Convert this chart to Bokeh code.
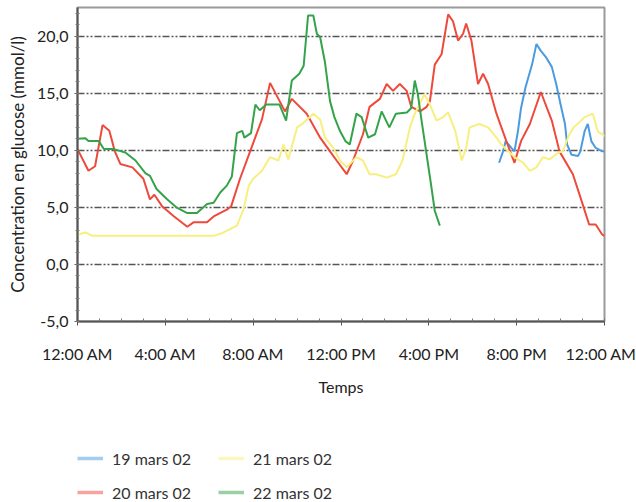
from bokeh.plotting import figure
from bokeh.layouts import column
from bokeh.models import FixedTicker, Legend, LegendItem, ColumnDataSource
from bokeh.embed import file_html
from bokeh.resources import INLINE

# ---- data (hours since midnight, glucose mmol/l) ----
h_19 = [19.2, 19.38, 19.5, 19.76, 19.9, 20.06, 20.2, 20.4, 20.7, 20.9, 21.1, 21.35, 21.6, 21.8, 22.0,
        22.2, 22.3, 22.5, 22.8, 22.9, 23.1, 23.24, 23.4, 23.6, 23.9, 24.0]
v_19 = [8.9, 9.9, 10.8, 10.2, 9.9, 11.7, 13.7, 15.5, 17.5, 19.3, 18.7, 18.1, 17.3, 15.8, 14.0,
        12.3, 10.5, 9.6, 9.5, 9.9, 11.7, 12.3, 10.8, 10.2, 9.9, 9.9]

h_20 = [0, 0.5, 0.8, 1.14, 1.45, 1.7, 1.95, 2.5, 3.0, 3.3, 3.5, 3.85, 4.4, 5.0, 5.3, 5.9, 6.2, 6.8, 7.0,
        7.4, 7.9, 8.4, 8.77, 9.45, 9.76, 10.44, 11.05, 11.5, 11.8, 12.26, 12.55, 13.0, 13.3, 13.77,
        14.08, 14.37, 14.68, 14.99, 15.2, 15.6, 15.9, 16.05, 16.27, 16.58, 16.88, 17.1, 17.33, 17.56,
        17.7, 17.94, 18.24, 18.47, 18.7, 19.08, 19.53, 19.9, 20.2, 20.6, 21.1, 21.6, 21.95, 22.56,
        23.0, 23.3, 23.6, 23.9, 24.0]
v_20 = [10.1, 8.2, 8.6, 12.2, 11.7, 9.9, 8.8, 8.5, 7.5, 5.7, 6.1, 5.1, 4.2, 3.3, 3.7, 3.7, 4.2, 4.8, 5.1,
        7.5, 10.1, 12.7, 15.9, 13.4, 14.5, 13.2, 11.1, 9.9, 9.1, 7.9, 9.1, 11.4, 13.8, 14.5,
        15.8, 15.2, 15.8, 15.2, 13.8, 13.4, 13.8, 14.3, 17.5, 18.4, 21.9, 21.3, 19.6, 20.2,
        21.1, 19.6, 15.8, 16.7, 15.8, 13.2, 10.8, 8.9, 10.8, 12.3, 15.1, 12.6, 9.9, 7.9,
        5.3, 3.5, 3.5, 2.6, 2.5]

h_21 = [0, 0.36, 0.67, 6.2, 6.65, 6.95, 7.26, 7.56, 7.8, 8.0, 8.4, 8.77, 9.15, 9.38, 9.6, 10.0, 10.3,
        10.74, 11.05, 11.27, 11.65, 11.95, 12.26, 12.7, 13.0, 13.3, 13.6, 14.08, 14.5, 14.8, 15.14,
        15.36, 15.8, 16.05, 16.35, 16.65, 16.88, 17.2, 17.5, 17.7, 17.86, 18.3, 18.7, 19.08, 19.3,
        19.9, 20.3, 20.6, 20.9, 21.2, 21.5, 21.9, 22.1, 22.4, 22.6, 23.1, 23.47, 23.7, 23.9, 24.0]
v_21 = [2.6, 2.8, 2.5, 2.5, 2.8, 3.1, 3.4, 4.8, 6.9, 7.5, 8.2, 9.4, 9.1, 10.5, 9.2, 12.0, 12.4,
        13.2, 12.7, 11.1, 10.2, 9.1, 8.5, 9.4, 9.1, 7.9, 7.9, 7.6, 7.9, 9.1, 12.0,
        13.2, 14.9, 14.0, 12.6, 12.9, 13.3, 11.7, 9.1, 10.2, 12.0, 12.3, 12.0, 11.1, 10.5,
        9.4, 8.9, 8.2, 8.5, 9.4, 9.2, 9.8, 9.9, 11.4, 12.0, 12.9, 13.2, 11.6, 11.4, 11.2]

h_22 = [0, 0.36, 0.5, 0.97, 1.2, 1.65, 2.18, 2.64, 3.09, 3.3, 3.6, 4.08, 4.5, 5.0, 5.44, 5.9, 6.2, 6.5,
        6.8, 7.03, 7.26, 7.5, 7.6, 7.9, 8.1, 8.3, 8.6, 9.2, 9.5, 9.76, 10.1, 10.3, 10.5, 10.74, 10.9,
        11.05, 11.27, 11.5, 11.7, 11.95, 12.2, 12.4, 12.7, 12.94, 13.24, 13.55, 13.85, 14.2, 14.5,
        15.0, 15.2, 15.36, 15.5, 15.67, 15.9, 16.1, 16.27, 16.5]
v_22 = [11.0, 11.05, 10.8, 10.8, 10.1, 10.1, 9.8, 9.1, 8.0, 7.75, 6.6, 5.7, 5.0, 4.5, 4.5, 5.3, 5.4, 6.3,
        6.9, 7.7, 11.5, 11.7, 11.1, 11.5, 14.0, 13.5, 14.0, 14.0, 12.6, 16.1, 16.7, 17.4, 21.8, 21.8, 20.2,
        19.9, 17.7, 14.3, 12.9, 11.7, 10.8, 10.5, 13.2, 12.9, 11.1, 11.4, 13.4, 12.0, 13.2,
        13.3, 13.7, 16.1, 14.9, 12.6, 9.6, 7.0, 4.7, 3.4]

series_names = ["19 mars 02", "20 mars 02", "21 mars 02", "22 mars 02"]
series_colors = ["#4a9be0", "#ee4a3c", "#f7ef80", "#34a34a"]

x_ticks = [0, 4, 8, 12, 16, 20, 24]
x_labels = ["12:00 AM", "4:00 AM", "8:00 AM", "12:00 PM", "4:00 PM", "8:00 PM", "12:00 AM"]
y_ticks = [-5, 0, 5, 10, 15, 20]
y_labels = ["-5,0", "0,0", "5,0", "10,0", "15,0", "20,0"]

FONT = "Lato"

p = figure(width=636, height=430, output_backend="svg", toolbar_location=None,
           x_range=(0, 24), y_range=(-5, 22.5),
           min_border_left=77, min_border_right=32, min_border_top=7, min_border_bottom=109)
p.background_fill_color = "white"
p.border_fill_color = "white"
p.outline_line_color = "#9a9a9a"
p.outline_line_width = 2

# grid
p.xgrid.grid_line_color = None
p.ygrid.ticker = FixedTicker(ticks=y_ticks)
p.ygrid.grid_line_color = "#555555"
p.ygrid.grid_line_width = 1.4
p.ygrid.grid_line_dash = "7 2 2 2 2 2"

# axes
p.xaxis.ticker = FixedTicker(ticks=x_ticks, minor_ticks=list(range(0, 25)))
p.xaxis.major_label_overrides = {t: l for t, l in zip(x_ticks, x_labels)}
p.yaxis.ticker = FixedTicker(ticks=y_ticks, minor_ticks=list(range(-5, 23)))
p.yaxis.major_label_overrides = {t: l for t, l in zip(y_ticks, y_labels)}

for ax in (p.xaxis[0], p.yaxis[0]):
    ax.axis_line_color = "#555555"
    ax.axis_line_width = 2
    ax.major_tick_line_color = "#555555"
    ax.minor_tick_line_color = "#777777"
    ax.major_label_text_font = FONT
    ax.major_label_text_font_size = "16px"
    ax.major_label_text_color = "#222222"
    ax.axis_label_text_font = FONT
    ax.axis_label_text_font_size = "16px"
    ax.axis_label_text_font_style = "normal"
    ax.axis_label_text_color = "#222222"

p.xaxis.axis_label = "Temps"
p.xaxis.major_tick_out = 4
p.xaxis.major_tick_in = 0
p.xaxis.minor_tick_out = 0
p.xaxis.minor_tick_in = 3
p.xaxis.major_label_standoff = 18
p.xaxis.axis_label_standoff = 11

p.yaxis.axis_label = "Concentration en glucose (mmol/l)"
p.yaxis.axis_label_text_font_size = "17px"
p.yaxis.major_tick_out = 3
p.yaxis.major_tick_in = 0
p.yaxis.minor_tick_out = 2
p.yaxis.minor_tick_in = 2
p.yaxis.major_label_standoff = 6
p.yaxis.axis_label_standoff = 6

# legend strip below the chart (its frame is aligned with the chart frame by the column layout)
pl = figure(width=636, height=72, output_backend="svg", toolbar_location=None,
            x_axis_location=None, y_axis_location=None,
            min_border_left=0, min_border_right=0, min_border_top=0, min_border_bottom=0,
            x_range=(0, 1), y_range=(0, 1))
pl.outline_line_color = None
pl.grid.grid_line_color = None
pl.background_fill_color = "white"
pl.border_fill_color = "white"

data = [(h_19, v_19), (h_20, v_20), (h_21, v_21), (h_22, v_22)]
legend_items = []
for (hs, vs), name, col in zip(data, series_names, series_colors):
    src = ColumnDataSource(dict(x=hs, y=vs))
    p.line("x", "y", source=src, line_color=col, line_width=2)
    # lighter swatch for the legend (single point: draws nothing in the strip itself)
    swatch = pl.line(x=hs[:1], y=vs[:1], line_color=col, line_width=3.5, line_alpha=0.5)
    legend_items.append(LegendItem(label=name, renderers=[swatch]))

legend = Legend(items=legend_items, location=(0, 0), orientation="vertical", nrows=2,
                padding=0, margin=0, spacing=14, glyph_width=26, glyph_height=20,
                label_standoff=9, label_width=92, label_height=20,
                label_text_font=FONT, label_text_font_size="16px", label_text_color="#333333",
                border_line_color=None, background_fill_alpha=0)
pl.add_layout(legend, "center")

layout = column(p, pl, spacing=0)
open("out.html", "w").write(file_html(layout, INLINE))
